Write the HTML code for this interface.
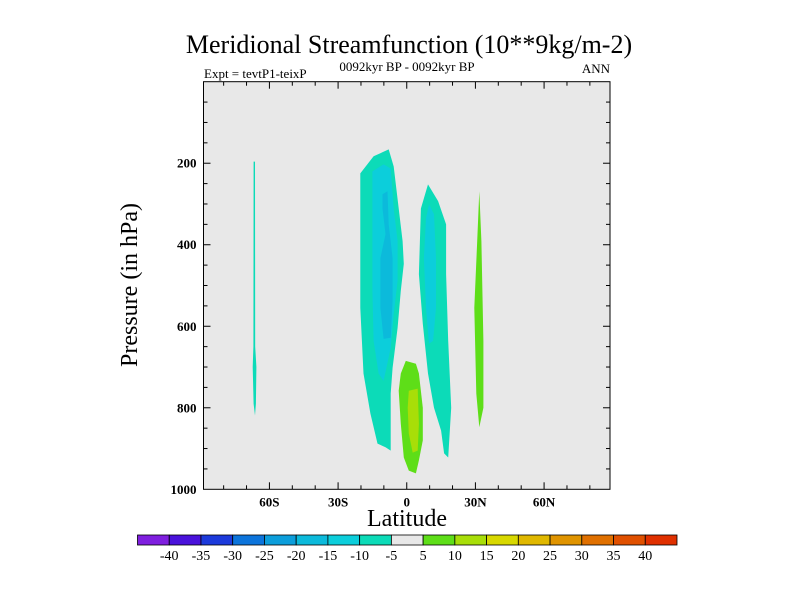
<!DOCTYPE html>
<html><head><meta charset="utf-8"><style>
body{margin:0;background:#fff;width:800px;height:600px;overflow:hidden}
svg{display:block;font-family:"Liberation Serif",serif}
</style></head><body>
<svg id="chart" width="800" height="600" viewBox="0 0 800 600">
<text x="409" y="53" font-size="26" text-anchor="middle">Meridional Streamfunction (10**9kg/m-2)</text>
<text x="204" y="78" font-size="13">Expt = tevtP1-teixP</text>
<text x="407" y="71" font-size="13" text-anchor="middle">0092kyr BP - 0092kyr BP</text>
<text x="610" y="73" font-size="13" text-anchor="end">ANN</text>
<rect x="203.5" y="81.7" width="406.5" height="407.6" fill="#e8e8e8"/>
<g id="contours"></g>
<rect x="203.5" y="81.7" width="406.5" height="407.6" fill="none" stroke="#000" stroke-width="1"/>
<g id="axes"></g>
<text transform="translate(137,285) rotate(-90)" font-size="24" text-anchor="middle">Pressure (in hPa)</text>
<text x="407" y="526" font-size="24" text-anchor="middle">Latitude</text>
<g id="colorbar"></g>
</svg>
<script>
const latTicks=[-60,-30,0,30,60];
const latTickLabels=["60S","30S","0","30N","60N"];
const presTicks=[200,400,600,800,1000];
const levelLabels=["-40","-35","-30","-25","-20","-15","-10","-5","5","10","15","20","25","30","35","40"];
const levelColors=["#7f1fdf","#4a12db","#1c3adb","#0c74db","#0c9edb","#0cbadb","#0ccedb","#0cdbb8","#e8e8e8","#5ede18","#a8de08","#d8d800","#e0b800","#e09400","#e07000","#e05000","#e03000"];
// contour polygons as [lat, pressure] pairs, with fill level index
const shapeLevels=[7,7,6,5,7,6,9,10,9];
const shapeA=[[-20.3,225],[-14.5,183],[-7.9,166],[-5.7,208],[-1.8,391],[-1.3,447],[-2.6,513],[-4.0,604],[-6.2,702],[-7.0,765],[-7.0,905],[-9.3,897],[-12.8,888],[-15.9,814],[-18.9,716],[-20.3,555],[-20.3,391]];
const shapeA2=[[-15.0,220],[-10.1,203],[-7.0,213],[-5.7,311],[-4.0,391],[-4.0,489],[-5.7,570],[-7.0,653],[-10.1,734],[-12.3,716],[-14.5,636],[-15.0,513],[-15.0,350]];
const shapeA3=[[-10.6,276],[-8.4,269],[-7.9,350],[-6.2,433],[-6.2,538],[-7.0,628],[-10.1,631],[-11.5,555],[-11.5,433],[-9.3,374],[-10.6,311]];
const shapeL=[[-66.9,196],[-66.3,196],[-66.2,650],[-65.7,700],[-65.9,790],[-66.3,819],[-66.9,790],[-67.3,700],[-67.0,650]];
const shapeB=[[9.3,252],[13.7,293],[17.2,350],[17.2,472],[18.1,636],[19.4,800],[18.1,922],[16.3,912],[15.0,856],[11.9,800],[9.3,716],[7.0,594],[5.3,472],[6.2,311]];
const shapeB2=[[9.7,301],[11.9,325],[12.8,433],[12.8,555],[11.5,636],[9.7,643],[8.4,555],[7.5,433],[8.4,335]];
const shapeC=[[-0.4,685],[4.0,692],[5.3,716],[7.0,800],[7.0,880],[5.3,929],[4.0,961],[0.9,954],[-1.3,922],[-2.6,839],[-3.5,758],[-2.6,716]];
const shapeC2=[[0.9,758],[4.8,753],[5.3,839],[4.8,905],[2.6,910],[0.9,863],[0.4,800]];
const shapeD=[[31.7,269],[32.6,391],[33.5,636],[33.5,800],[31.7,848],[30.4,765],[29.5,555],[30.8,391]];
const shapes=[shapeA,shapeL,shapeA2,shapeA3,shapeB,shapeB2,shapeC,shapeC2,shapeD];
const shapeNames=["neg-cell-south","neg-strip-60s","neg-cell-south-inner","neg-cell-south-core","neg-cell-north","neg-cell-north-inner","pos-cell-equator","pos-cell-equator-core","pos-strip-30n"];

const X0=203.5,X1=610,Y0=81.7,Y1=489.3,LAT0=-88.8,LAT1=88.8;
function xs(lat){return X0+(lat-LAT0)/(LAT1-LAT0)*(X1-X0);}
function ys(p){return Y0+p/1000*(Y1-Y0);}
const NS="http://www.w3.org/2000/svg";
function mk(tag,attrs,parent){const e=document.createElementNS(NS,tag);for(const k in attrs)e.setAttribute(k,attrs[k]);parent.appendChild(e);return e;}

const cg=document.getElementById('contours');
shapes.forEach((s,i)=>{
  const p=mk('polygon',{points:s.map(d=>xs(d[0]).toFixed(1)+','+ys(d[1]).toFixed(1)).join(' '),fill:levelColors[shapeLevels[i]]},cg);
  
  
});

const ag=document.getElementById('axes');
for(let lat=-80;lat<=80;lat+=10){
  const major=lat%30===0;const x=xs(lat);const L=major?7:4;
  const t1=mk('line',{x1:x,x2:x,y1:Y1,y2:Y1-L,stroke:'#000'},ag);
  
  
  const t2=mk('line',{x1:x,x2:x,y1:Y0,y2:Y0+L,stroke:'#000'},ag);
  
  
}
latTicks.forEach((lat,i)=>{
  const t=mk('text',{x:xs(lat),y:Y1+17,'font-size':13,'font-weight':'bold','text-anchor':'middle'},ag);
  t.textContent=latTickLabels[i];
  
  
});
for(let p=50;p<1000;p+=50){
  const major=p%200===0;const y=ys(p);const L=major?7:4;
  const t1=mk('line',{x1:X0,x2:X0+L,y1:y,y2:y,stroke:'#000'},ag);
  
  
  const t2=mk('line',{x1:X1,x2:X1-L,y1:y,y2:y,stroke:'#000'},ag);
  
  
}
presTicks.forEach(p=>{
  const t=mk('text',{x:X0-7,y:ys(p)+4.5,'font-size':13,'font-weight':'bold','text-anchor':'end'},ag);
  t.textContent=String(p);
  
  
});

const cb=document.getElementById('colorbar');
const CB0=137.5,CB1=677,CBY=535,CBH=10;const bw=(CB1-CB0)/levelColors.length;
levelColors.forEach((c,i)=>{
  const r=mk('rect',{x:CB0+i*bw,y:CBY,width:bw,height:CBH,fill:c,stroke:'#000','stroke-width':0.8},cb);
  
  
});
levelLabels.forEach((l,i)=>{
  const t=mk('text',{x:CB0+(i+1)*bw,y:CBY+CBH+15,'font-size':14,'text-anchor':'middle'},cb);
  t.textContent=l;
  
  
});
</script>
</body></html>
